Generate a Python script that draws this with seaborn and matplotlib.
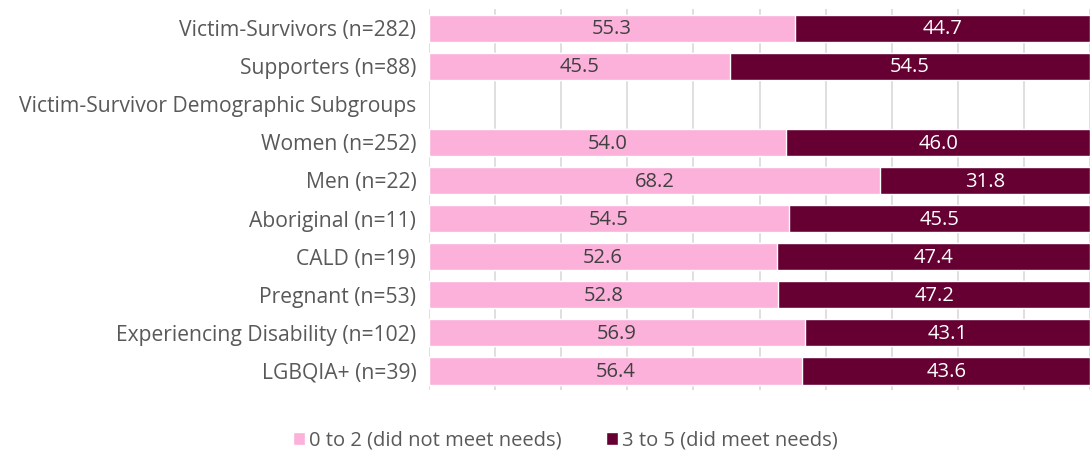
import pandas as pd
import numpy as np
import seaborn as sns
import matplotlib.pyplot as plt
from matplotlib.patches import Patch

# dados
categorias = ['Victim-Survivors (n=282)', 'Supporters (n=88)',
              'Victim-Survivor Demographic Subgroups',
              'Women (n=252)', 'Men (n=22)', 'Aboriginal (n=11)', 'CALD (n=19)',
              'Pregnant (n=53)', 'Experiencing Disability (n=102)', 'LGBQIA+ (n=39)']
nao_atendeu = [55.3, 45.5, None, 54.0, 68.2, 54.5, 52.6, 52.8, 56.9, 56.4]
atendeu = [44.7, 54.5, None, 46.0, 31.8, 45.5, 47.4, 47.2, 43.1, 43.6]
legenda = ['0 to 2 (did not meet needs)', '3 to 5 (did meet needs)']

rosa = '#FBB1DA'
bordo = '#660033'
cinza = '#595959'

df = pd.DataFrame({'cat': categorias, 'nao': nao_atendeu, 'sim': atendeu}).dropna()
df['total'] = df['nao'] + df['sim']

sns.set_style('white')
plt.rcParams['font.family'] = ['Open Sans', 'DejaVu Sans']
fs = 14.5

fig, ax = plt.subplots(figsize=(10.91, 4.53), dpi=100)
fig.subplots_adjust(left=0.393, right=0.9995, top=0.98, bottom=0.139)

sns.barplot(data=df, x='total', y='cat', order=categorias, color=bordo,
            width=0.71, saturation=1, ax=ax, zorder=2)
sns.barplot(data=df, x='nao', y='cat', order=categorias, color=rosa,
            width=0.71, saturation=1, ax=ax, zorder=3)

# rótulos dos valores
for i, cat in enumerate(categorias):
    linha = df[df['cat'] == cat]
    if linha.empty:
        continue
    p = linha['nao'].iloc[0]
    d = linha['sim'].iloc[0]
    ax.text(p / 2, i + 0.03, f'{p:.1f}', ha='center', va='center', fontsize=fs, color='#404040', zorder=4)
    ax.text(p + d / 2, i + 0.03, f'{d:.1f}', ha='center', va='center', fontsize=fs, color='white', zorder=4)

ax.set_xlim(0, 100)
ax.set_ylim(len(categorias) - 0.5, -0.5)
ax.set_xticks(np.arange(0, 101, 10))
ax.set_xticklabels([])
ax.tick_params(axis='x', length=0)
ax.tick_params(axis='y', length=0, pad=9, labelsize=15.2, labelcolor=cinza)
ax.xaxis.grid(True, color='#D9D9D9', linewidth=1.2, zorder=0)
ax.set_axisbelow(True)
ax.set_xlabel('')
ax.set_ylabel('')
for s in ax.spines.values():
    s.set_visible(False)

handles = [Patch(facecolor=rosa), Patch(facecolor=bordo)]
fig.legend(handles, legenda, loc='center', bbox_to_anchor=(0.518, 0.028), ncol=2,
           frameon=False, handlelength=0.6, handleheight=0.6, handletextpad=0.2,
           columnspacing=2.2, fontsize=fs, labelcolor=cinza)

plt.savefig('out.png', dpi=100)
